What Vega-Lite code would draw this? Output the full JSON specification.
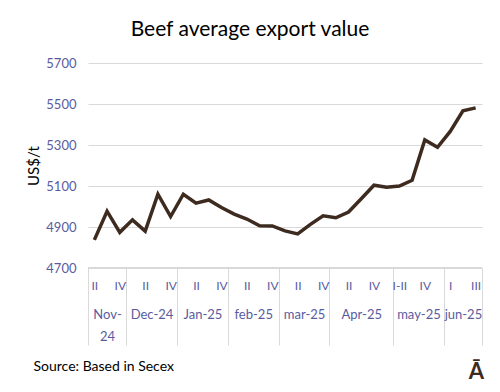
{
  "$schema": "https://vega.github.io/schema/vega-lite/v6.json",
  "width": 394,
  "height": 205,
  "autosize": {"type": "none"},
  "padding": {"left": 88, "top": 63, "right": 18, "bottom": 124},
  "background": "white",
  "config": {"view": {"stroke": null}, "font": "Lato"},
  "title": {
    "text": "Beef average export value",
    "font": "Lato",
    "fontSize": 21,
    "fontWeight": "normal",
    "color": "black",
    "anchor": "middle",
    "dx": -35,
    "baseline": "alphabetic",
    "offset": 0
  },
  "data": {
    "values": [
      {"idx": 0, "month": "Nov-24", "week": "II", "value": 4837},
      {"idx": 1, "month": "Nov-24", "week": "III", "value": 4977},
      {"idx": 2, "month": "Nov-24", "week": "IV", "value": 4874},
      {"idx": 3, "month": "Dec-24", "week": "I", "value": 4935},
      {"idx": 4, "month": "Dec-24", "week": "II", "value": 4880},
      {"idx": 5, "month": "Dec-24", "week": "III", "value": 5060},
      {"idx": 6, "month": "Dec-24", "week": "IV", "value": 4951},
      {"idx": 7, "month": "Jan-25", "week": "I", "value": 5060},
      {"idx": 8, "month": "Jan-25", "week": "II", "value": 5016},
      {"idx": 9, "month": "Jan-25", "week": "III", "value": 5032},
      {"idx": 10, "month": "Jan-25", "week": "IV", "value": 4995},
      {"idx": 11, "month": "feb-25", "week": "I", "value": 4963},
      {"idx": 12, "month": "feb-25", "week": "II", "value": 4939},
      {"idx": 13, "month": "feb-25", "week": "III", "value": 4906},
      {"idx": 14, "month": "feb-25", "week": "IV", "value": 4905},
      {"idx": 15, "month": "mar-25", "week": "I", "value": 4881},
      {"idx": 16, "month": "mar-25", "week": "II", "value": 4866},
      {"idx": 17, "month": "mar-25", "week": "III", "value": 4913},
      {"idx": 18, "month": "mar-25", "week": "IV", "value": 4955},
      {"idx": 19, "month": "Apr-25", "week": "I", "value": 4945},
      {"idx": 20, "month": "Apr-25", "week": "II", "value": 4973},
      {"idx": 21, "month": "Apr-25", "week": "III", "value": 5038},
      {"idx": 22, "month": "Apr-25", "week": "IV", "value": 5104},
      {"idx": 23, "month": "Apr-25", "week": "V", "value": 5094},
      {"idx": 24, "month": "may-25", "week": "I-II", "value": 5100},
      {"idx": 25, "month": "may-25", "week": "III", "value": 5128},
      {"idx": 26, "month": "may-25", "week": "IV", "value": 5325},
      {"idx": 27, "month": "may-25", "week": "V", "value": 5289},
      {"idx": 28, "month": "jun-25", "week": "I", "value": 5366},
      {"idx": 29, "month": "jun-25", "week": "II", "value": 5467},
      {"idx": 30, "month": "jun-25", "week": "III", "value": 5481}
    ]
  },
  "layer": [
    {
      "mark": {"type": "rule", "color": "#d9d9d9", "strokeWidth": 1},
      "encoding": {
        "y": {
          "datum": 4700,
          "type": "quantitative",
          "scale": {"domain": [4700, 5700], "nice": false, "zero": false},
          "axis": {
            "orient": "right",
            "labels": false,
            "ticks": false,
            "domain": false,
            "grid": false,
            "title": "Ā",
            "titleAngle": 0,
            "titleFont": "Lato",
            "titleFontSize": 22,
            "titleFontWeight": "bold",
            "titleColor": "#3d2b1f",
            "titleX": -6,
            "titleY": 315,
            "titleAlign": "center",
            "titleBaseline": "alphabetic"
          }
        }
      }
    },
    {
      "mark": {"type": "line", "color": "#3d2b1f", "strokeWidth": 3.5, "strokeJoin": "miter"},
      "encoding": {
        "x": {
          "field": "idx",
          "type": "quantitative",
          "scale": {"domain": [-0.5, 30.5], "nice": false, "zero": false},
          "axis": {
            "orient": "bottom",
            "values": [-0.5, 0, 1, 2, 2.5, 4, 4.5, 6, 6.5, 8, 8.5, 10, 10.5, 12, 12.5, 14, 14.5, 16, 16.5, 18, 18.5, 20, 21, 22, 23.5, 24, 25.5, 26, 27.5, 28, 29, 30, 30.5],
            "labelExpr": "datum.value == 1 ? ['Nov-', '24'] : datum.value == 4.5 ? 'Dec-24' : datum.value == 8.5 ? 'Jan-25' : datum.value == 12.5 ? 'feb-25' : datum.value == 16.5 ? 'mar-25' : datum.value == 21 ? 'Apr-25' : datum.value == 25.5 ? 'may-25' : datum.value == 29 ? 'jun-25' : (datum.value % 1 == 0 && datum.value >= 0 ? ['II','IV','II','IV','II','IV','II','IV','II','IV','II','IV','I-II','IV','I','III'][datum.value / 2] : '')",
            "tickSize": {"condition": {"test": "indexof([-0.5, 2.5, 6.5, 10.5, 14.5, 18.5, 23.5, 27.5, 30.5], datum.value) >= 0", "value": 77}, "value": 0},
            "tickColor": "#d9d9d9",
            "tickWidth": 1,
            "labelPadding": {"condition": {"test": "indexof([1, 4.5, 8.5, 12.5, 16.5, 21, 25.5, 29], datum.value) >= 0", "value": 40}, "value": 12},
            "labelFontSize": {"condition": {"test": "indexof([1, 4.5, 8.5, 12.5, 16.5, 21, 25.5, 29], datum.value) >= 0", "value": 13}, "value": 12},
            "labelFont": "Lato",
            "labelColor": "#595c9e",
            "labelLineHeight": 22,
            "labelOverlap": false,
            "labelBound": false,
            "labelFlush": false,
            "grid": false,
            "domain": false,
            "title": "Source: Based in Secex",
            "titleFont": "Lato",
            "titleFontSize": 14,
            "titleFontWeight": "normal",
            "titleColor": "black",
            "titleAngle": 0,
            "titleX": -55,
            "titleY": 102,
            "titleAlign": "left",
            "titleBaseline": "alphabetic"
          }
        },
        "y": {
          "field": "value",
          "type": "quantitative",
          "scale": {"domain": [4700, 5700], "nice": false, "zero": false},
          "axis": {
            "orient": "left",
            "values": [4700, 4900, 5100, 5300, 5500, 5700],
            "format": "d",
            "domain": false,
            "ticks": false,
            "grid": true,
            "gridColor": "#d9d9d9",
            "gridWidth": 1,
            "labelPadding": 12,
            "labelFont": "Lato",
            "labelFontSize": 13,
            "labelColor": "#595c9e",
            "title": "US$/t",
            "titleFont": "Lato",
            "titleFontSize": 15,
            "titleFontWeight": "normal",
            "titleColor": "black",
            "titleX": -55,
            "titleY": 102.5,
            "titleAlign": "center",
            "titleBaseline": "middle"
          }
        }
      }
    }
  ],
  "resolve": {"scale": {"y": "independent"}, "axis": {"y": "independent"}}
}
